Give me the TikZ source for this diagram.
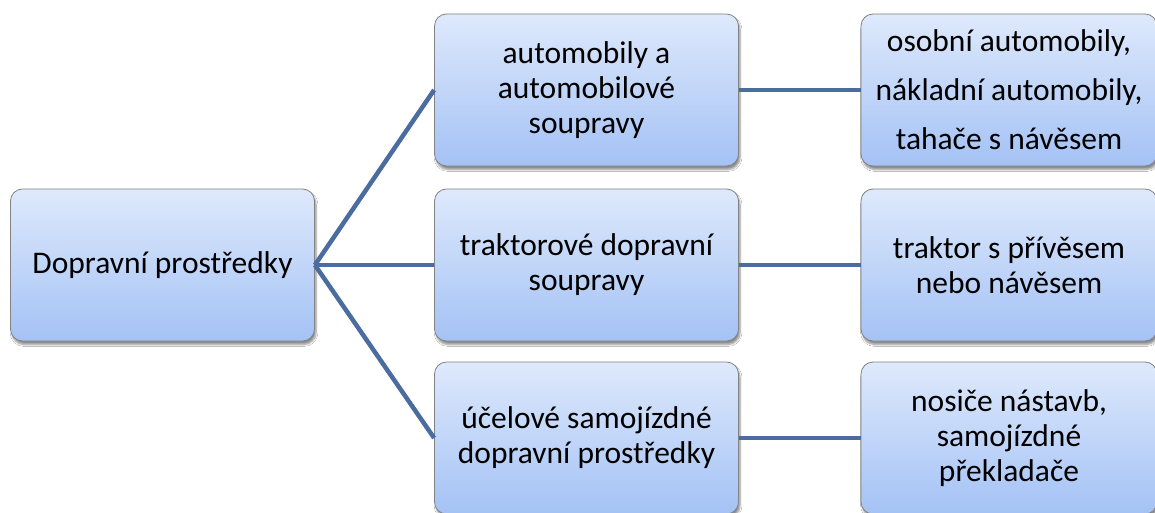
\documentclass[tikz,border=0pt]{standalone}
\usepackage{fontspec}
\setmainfont{Carlito}
\usetikzlibrary{shadows.blur}
\definecolor{linkblue}{RGB}{74,108,158}
\definecolor{boxtop}{RGB}{222,233,252}
\definecolor{boxbot}{RGB}{164,194,245}
\definecolor{boxedge}{RGB}{130,130,130}
\tikzset{
  card/.style={rectangle, rounded corners=12pt, draw=boxedge, line width=0.8pt,
    top color=boxtop, bottom color=boxbot, align=center,
    minimum width=304pt, minimum height=152pt, inner sep=2pt,
    font=\fontsize{31.5}{35}\selectfont,
    blur shadow={shadow xshift=1.5pt, shadow yshift=-3.5pt, shadow blur steps=6, shadow opacity=45}},
  leaf/.style={card, minimum width=296pt},
  link/.style={draw=linkblue, line width=4.5pt}
}
\begin{document}
\begin{tikzpicture}[x=1pt,y=1pt]
  \useasboundingbox (0,0) rectangle (1155,-513);
  \fill[white] (0,0) rectangle (1155,-513);
  % root
  \node[card] (root) at (162.5,-265) {Dopravní prostředky};
  % categories
  \node[card] (auto) at (586.5,-90) {automobily a\\automobilové\\soupravy};
  \node[card] (trak) at (586.5,-265) {traktorové dopravní\\soupravy};
  \node[card] (ucel) at (586.5,-438) {účelové samojízdné\\dopravní prostředky};
  % examples
  \node[leaf, font=\fontsize{31.5}{49}\selectfont] (autoex) at (1009,-90) {osobní automobily,\\nákladní automobily,\\tahače s návěsem};
  \node[leaf] (trakex) at (1009,-265) {traktor s přívěsem\\nebo návěsem};
  \node[leaf] (ucelex) at (1009,-438) {nosiče nástavb,\\samojízdné\\překladače};
  % connectors
  \draw[link] (root.east) -- (auto.west);
  \draw[link] (root.east) -- (trak.west);
  \draw[link] (root.east) -- (ucel.west);
  \draw[link] (auto.east) -- (autoex.west);
  \draw[link] (trak.east) -- (trakex.west);
  \draw[link] (ucel.east) -- (ucelex.west);
\end{tikzpicture}
\end{document}
